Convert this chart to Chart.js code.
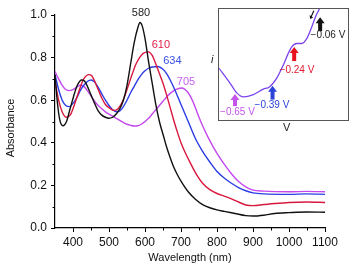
<!DOCTYPE html>
<html>
<head>
<meta charset="utf-8">
<script src="https://cdn.jsdelivr.net/npm/chart.js@4.4.1/dist/chart.umd.min.js"></script>
<style>
  body { margin: 0; background: #fff; }
  #wrap { position: relative; width: 354px; height: 269px; font-family: "Liberation Sans", Arial, sans-serif; }
  #main { position: absolute; left: 0; top: 0; }
  #insetBox { position: absolute; left: 218px; top: 8px; width: 129px; height: 111px; border: 1px solid #555; background: #fff; }
  #inset { display: block; }
  .lbl { position: absolute; font-size: 11px; color: #222; }
</style>
</head>
<body>
<div id="wrap">
  <canvas id="main" width="354" height="269"></canvas>
  <div id="insetBox"><canvas id="inset" width="129" height="111"></canvas></div>
  <span class="lbl" style="left:211px;top:53px;font-style:italic;">i</span>
  <span class="lbl" style="left:283px;top:121px;">V</span>
</div>
<script>
// spectra (wavelength nm / absorbance)
const wlBlack  = [350,356,363,372,382,392,402,412,424,432,440,450,460,470,480,490,500,510,520,530,540,550,560,570,580,586,592,600,610,620,630,640,650,660,670,680,690,700,720,740,760,780,800,820,850,880,900,930,960,1000,1050,1100];
const absBlack = [0.72,0.60,0.51,0.48,0.50,0.56,0.62,0.67,0.695,0.69,0.665,0.625,0.585,0.55,0.53,0.52,0.515,0.52,0.535,0.56,0.60,0.67,0.77,0.87,0.94,0.965,0.95,0.89,0.78,0.68,0.58,0.50,0.44,0.38,0.33,0.285,0.25,0.22,0.17,0.135,0.11,0.095,0.085,0.078,0.068,0.058,0.056,0.06,0.068,0.072,0.075,0.074];

const wlRed  = [350,360,370,382,392,400,410,420,430,444,452,460,470,480,490,500,514,525,535,545,555,565,575,585,595,609,620,630,640,650,660,670,680,690,700,710,720,740,760,780,800,820,840,860,880,900,930,960,1000,1050,1100];
const absRed = [0.69,0.60,0.545,0.52,0.53,0.56,0.61,0.66,0.70,0.72,0.715,0.69,0.65,0.61,0.58,0.565,0.552,0.56,0.585,0.625,0.675,0.725,0.77,0.80,0.82,0.827,0.81,0.77,0.725,0.68,0.625,0.565,0.505,0.45,0.40,0.36,0.325,0.26,0.21,0.18,0.162,0.15,0.137,0.122,0.108,0.105,0.11,0.115,0.12,0.122,0.12];

const wlBlue  = [350,360,370,380,390,400,410,420,430,440,450,460,470,480,490,500,510,520,530,540,550,560,570,580,590,600,610,620,636,650,660,670,680,690,700,710,720,740,760,780,800,820,840,860,880,900,930,1000,1050,1100];
const absBlue = [0.72,0.65,0.60,0.575,0.57,0.585,0.61,0.645,0.67,0.688,0.695,0.685,0.66,0.63,0.60,0.575,0.555,0.546,0.55,0.57,0.60,0.635,0.665,0.695,0.72,0.738,0.75,0.756,0.758,0.745,0.725,0.695,0.66,0.62,0.58,0.54,0.50,0.42,0.36,0.31,0.265,0.235,0.21,0.19,0.175,0.165,0.16,0.158,0.16,0.158];

const wlPurple  = [350,360,370,380,390,400,410,420,430,440,450,460,470,480,490,500,510,520,530,540,550,560,570,580,590,600,610,620,630,640,650,660,670,680,690,702,710,720,730,740,750,760,780,800,820,840,860,880,900,930,1000,1050,1100];
const absPurple = [0.735,0.70,0.67,0.65,0.645,0.65,0.66,0.67,0.665,0.645,0.62,0.595,0.575,0.56,0.545,0.535,0.525,0.515,0.505,0.495,0.487,0.482,0.479,0.48,0.487,0.50,0.515,0.535,0.555,0.575,0.595,0.615,0.632,0.645,0.653,0.657,0.652,0.635,0.605,0.565,0.52,0.48,0.41,0.35,0.30,0.255,0.218,0.193,0.178,0.173,0.17,0.172,0.17];

// peak labels (text, wavelength, absorbance where the text sits)
const peakText = ['580', '610', '634', '705'];
const peakWl   = [589, 644, 676, 714];
const peakAbs  = [1.008, 0.859, 0.785, 0.687];

// inset voltammogram
const inV = [-0.761,-0.685,-0.638,-0.593,-0.523,-0.454,-0.412,-0.361,-0.315,-0.281,-0.257,-0.223,-0.188,-0.153,-0.119,-0.089,-0.066,-0.05];
const inI = [0.466,0.333,0.244,0.208,0.229,0.279,0.297,0.377,0.496,0.600,0.658,0.689,0.689,0.733,0.836,0.940,1.0,1.06];

const arrowV    = [-0.65, -0.39, -0.24, -0.06];
const arrowTip  = [0.235, 0.309, 0.658, 0.925];
const arrowBase = [0.125, 0.184, 0.531, 0.80];
const arrowText = ['\u22120.65 V', '\u22120.39 V', '\u22120.24 V', '\u22120.06 V'];
const arrowTextV = [-0.633, -0.394, -0.221, -0.006];
const arrowTextI = [0.066, 0.137, 0.445, 0.762];

const colBlack = '#111111', colRed = '#d8183e', colBlue = '#2c3ce6', colPurple = '#c448ee';
const peakColors  = ['#222222', '#e0204a', '#3a50e8', '#c860f0'];
const arrowColors = ['#c454ea', '#2c44d8', '#e8121e', '#111111'];
const textColors  = ['#c454ea', '#2c44d8', '#e0182c', '#222222'];

const font = '"Liberation Sans", Arial, sans-serif';

function pts(xs, ys) { return xs.map((x, i) => ({ x: x, y: ys[i] })); }
function ds(xs, ys, c) {
    return { data: pts(xs, ys), borderColor: c, borderWidth: 1.4, pointRadius: 0, cubicInterpolationMode: 'monotone', fill: false };
}

// short minor ticks, y title, peak labels
const extras = {
    id: 'extras',
    afterDraw(chart) {
        const ctx = chart.ctx, xs = chart.scales.x, ys = chart.scales.y;
        ctx.save();
        ctx.strokeStyle = '#000';
        ctx.lineWidth = 1;
        for (let v = 450; v < 1100; v += 100) {
            const px = Math.round(xs.getPixelForValue(v)) + 0.5;
            ctx.beginPath(); ctx.moveTo(px, ys.bottom); ctx.lineTo(px, ys.bottom + 2.5); ctx.stroke();
        }
        for (let v = 0.1; v < 1; v += 0.2) {
            const py = Math.round(ys.getPixelForValue(v)) + 0.5;
            ctx.beginPath(); ctx.moveTo(xs.left, py); ctx.lineTo(xs.left - 2.5, py); ctx.stroke();
        }
        ctx.textAlign = 'center';
        ctx.textBaseline = 'middle';
        // y axis title
        ctx.save();
        ctx.translate(11, 128);
        ctx.rotate(-Math.PI / 2);
        ctx.font = '11px ' + font;
        ctx.fillStyle = '#111';
        ctx.fillText('Absorbance', 0, 0);
        ctx.restore();

        ctx.font = '11px ' + font;
        peakText.forEach((t, i) => {
            ctx.fillStyle = peakColors[i];
            ctx.fillText(t, xs.getPixelForValue(peakWl[i]), ys.getPixelForValue(peakAbs[i]));
        });
        ctx.restore();
    }
};

new Chart(document.getElementById('main'), {
    type: 'line',
    data: {
        datasets: [
            ds(wlBlack, absBlack, colBlack),
            ds(wlRed, absRed, colRed),
            ds(wlBlue, absBlue, colBlue),
            ds(wlPurple, absPurple, colPurple)
        ]
    },
    options: {
        responsive: false,
        animation: false,
        devicePixelRatio: 1,
        layout: { padding: { left: 0, top: 15, right: 29, bottom: 0 } },
        plugins: { legend: { display: false }, tooltip: { enabled: false } },
        scales: {
            x: {
                type: 'linear', min: 350, max: 1100,
                afterFit: s => { s.height = 41; },
                border: { color: '#000', width: 1.2 },
                grid: {
                    drawOnChartArea: false, tickLength: 4,
                    tickColor: c => (c.tick && c.tick.value % 100 === 0) ? '#000' : 'rgba(0,0,0,0)'
                },
                ticks: {
                    stepSize: 50, autoSkip: false, maxRotation: 0, padding: 3, color: '#111',
                    font: { family: font, size: 12 },
                    callback: v => (v % 100 === 0 ? String(v) : '')
                },
                title: { display: true, text: 'Wavelength (nm)', color: '#111', font: { family: font, size: 11 }, padding: { top: 2, bottom: 4 } }
            },
            y: {
                type: 'linear', min: 0, max: 1,
                afterFit: s => { s.width = 55; },
                border: { color: '#000', width: 1.2 },
                grid: {
                    drawOnChartArea: false, tickLength: 4,
                    tickColor: c => (c.tick && Math.round(c.tick.value * 10) % 2 === 0) ? '#000' : 'rgba(0,0,0,0)'
                },
                ticks: {
                    stepSize: 0.1, autoSkip: false, padding: 4, color: '#111',
                    font: { family: font, size: 12 },
                    callback: v => (Math.round(v * 10) % 2 === 0 ? v.toFixed(1) : '')
                },
                title: { display: false }
            }
        }
    },
    plugins: [extras]
});

// arrows and potential labels in the inset
const insetArrows = {
    id: 'insetArrows',
    afterDraw(chart) {
        const ctx = chart.ctx, xs = chart.scales.x, ys = chart.scales.y;
        ctx.save();
        arrowV.forEach((v, i) => {
            const px = xs.getPixelForValue(v);
            const tip = ys.getPixelForValue(arrowTip[i]);
            const base = ys.getPixelForValue(arrowBase[i]);
            ctx.fillStyle = arrowColors[i];
            ctx.fillRect(px - 2, tip + 5, 4, base - tip - 5);
            ctx.beginPath();
            ctx.moveTo(px, tip);
            ctx.lineTo(px + 4.5, tip + 6);
            ctx.lineTo(px - 4.5, tip + 6);
            ctx.closePath();
            ctx.fill();
        });
        // small scan-direction arrow
        const ax0 = xs.getPixelForValue(-0.104), ay0 = ys.getPixelForValue(0.985);
        const ax1 = xs.getPixelForValue(-0.126), ay1 = ys.getPixelForValue(0.92);
        ctx.strokeStyle = '#111'; ctx.fillStyle = '#111'; ctx.lineWidth = 1.2;
        ctx.beginPath(); ctx.moveTo(ax0, ay0); ctx.lineTo(ax1, ay1); ctx.stroke();
        ctx.beginPath(); ctx.moveTo(ax1 - 0.5, ay1 + 1); ctx.lineTo(ax1 - 1, ay1 - 3); ctx.lineTo(ax1 + 2.5, ay1 - 0.5); ctx.closePath(); ctx.fill();

        ctx.font = '10px ' + font;
        ctx.textAlign = 'center';
        ctx.textBaseline = 'middle';
        arrowText.forEach((t, i) => {
            ctx.fillStyle = textColors[i];
            ctx.fillText(t, xs.getPixelForValue(arrowTextV[i]), ys.getPixelForValue(arrowTextI[i]));
        });
        ctx.restore();
    }
};

new Chart(document.getElementById('inset'), {
    type: 'line',
    data: {
        datasets: [{
            data: pts(inV, inI), borderColor: '#7a44ee', borderWidth: 1.3, pointRadius: 0,
            cubicInterpolationMode: 'monotone', fill: false
        }]
    },
    options: {
        responsive: false,
        animation: false,
        devicePixelRatio: 1,
        layout: { padding: 0 },
        plugins: { legend: { display: false }, tooltip: { enabled: false } },
        scales: {
            x: { type: 'linear', min: -0.761, max: 0.133, display: false },
            y: { type: 'linear', min: 0, max: 1, display: false }
        }
    },
    plugins: [insetArrows]
});
</script>
</body>
</html>
